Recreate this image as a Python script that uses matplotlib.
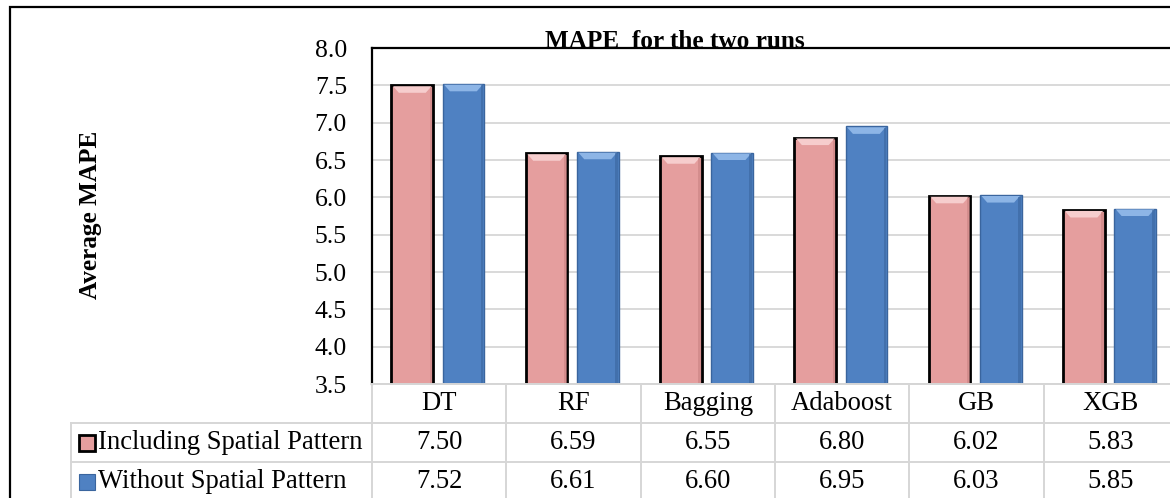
import numpy as np
import matplotlib
matplotlib.use("Agg")
import matplotlib.pyplot as plt
from matplotlib.patches import Rectangle, Polygon

# datos del grafico
modelos = ["DT", "RF", "Bagging", "Adaboost", "GB", "XGB"]
series = ["Including Spatial Pattern", "Without Spatial Pattern"]
con_patron = [7.50, 6.59, 6.55, 6.80, 6.02, 5.83]
sin_patron = [7.52, 6.61, 6.60, 6.95, 6.03, 5.85]
y_ticks = [3.5, 4.0, 4.5, 5.0, 5.5, 6.0, 6.5, 7.0, 7.5, 8.0]

plt.rcParams["font.family"] = ["Liberation Serif", "DejaVu Serif"]

W, H = 1170, 498
fig = plt.figure(figsize=(W / 100, H / 100), dpi=100)

# posiciones en pixeles del area de trazado
x0, x1 = 372, 1178
y_top, y_bot = 48, 384
ax = fig.add_axes([x0 / W, 1 - y_bot / H, (x1 - x0) / W, (y_bot - y_top) / H])

pink, pink_hi, pink_lo = "#E59E9E", "#F6CDCD", "#C98383"
blue, blue_hi, blue_lo = "#4F81C2", "#8DB5E6", "#3A659E"

x = np.arange(len(modelos))
bw = 0.31
b1 = ax.bar(x - 0.2, con_patron, bw, bottom=0, color=pink, edgecolor="black",
            linewidth=2.0, zorder=3)
b2 = ax.bar(x + 0.18, sin_patron, bw, bottom=0, color=blue, edgecolor=blue_lo,
            linewidth=1.0, zorder=3)

ax.set_xlim(-0.5, len(modelos) - 0.5)
ax.set_ylim(3.5, 8.0)

# efecto de bisel arriba de cada barra
dy = 0.10
dx = 0.055
for bars, hi, lo in [(b1, pink_hi, pink_lo), (b2, blue_hi, blue_lo)]:
    for r in bars:
        bx, bt, w = r.get_x(), r.get_height(), r.get_width()
        ax.add_patch(Polygon([(bx + 0.012, bt - 0.012), (bx + w - 0.012, bt - 0.012),
                              (bx + w - dx, bt - dy), (bx + dx, bt - dy)],
                             closed=True, color=hi, lw=0, zorder=4))
        # sombra lateral derecha
        ax.add_patch(Rectangle((bx + w - 0.025, 3.5), 0.018, bt - 3.5 - 0.02,
                               color=lo, lw=0, alpha=0.6, zorder=4))

ax.set_yticks(y_ticks)
ax.set_yticklabels([f"{v:.1f}" for v in y_ticks], fontsize=18.5)
ax.tick_params(axis="y", length=0, pad=18)
ax.set_xticks([])
ax.yaxis.grid(True, color="#D9D9D9", linewidth=1.4, zorder=0)
ax.set_axisbelow(True)
for s in ["top", "left", "right"]:
    ax.spines[s].set_linewidth(1.6)
    ax.spines[s].set_color("black")
ax.spines["bottom"].set_color("#D0D0D0")
ax.spines["bottom"].set_linewidth(1.2)

ax.set_title("MAPE  for the two runs", fontsize=18.2, fontweight="bold",
             x=(675 - x0) / (x1 - x0), y=0.975, va="baseline")
fig.text(91 / W, 1 - 215 / H, "Average MAPE", rotation=90, fontsize=18.2,
         fontweight="bold", ha="center", va="center")

# tabla de datos debajo del grafico
row_h = 39
tax = fig.add_axes([x0 / W, 1 - (y_bot + 3 * row_h) / H, (x1 - x0) / W, 3 * row_h / H])
tax.set_xlim(-0.5, len(modelos) - 0.5)
tax.set_ylim(3, 0)
tax.axis("off")

px = (len(modelos)) / (x1 - x0)  # unidades de datos por pixel
leg_left = -0.5 - (x0 - 71) * px
grid_c = "#D6D6D6"
lw_t = 1.4

# lineas horizontales y verticales
tax.plot([-0.5, 5.5], [0, 0], color=grid_c, lw=lw_t, clip_on=False)
for r in [1, 2]:
    tax.plot([leg_left, 5.5], [r, r], color=grid_c, lw=lw_t, clip_on=False)
tax.plot([leg_left, leg_left], [1, 3], color=grid_c, lw=lw_t, clip_on=False)
for i in range(len(modelos) + 1):
    tax.plot([i - 0.5, i - 0.5], [0, 3], color=grid_c, lw=lw_t, clip_on=False)

fs = 19.2
for i, m in enumerate(modelos):
    tax.text(i, 0.5, m, ha="center", va="center", fontsize=fs)
    tax.text(i, 1.5, f"{con_patron[i]:.2f}", ha="center", va="center", fontsize=fs)
    tax.text(i, 2.5, f"{sin_patron[i]:.2f}", ha="center", va="center", fontsize=fs)

# marcadores de leyenda y etiquetas
mk_x = -0.5 - (x0 - 86.5) * px
tx_x = -0.5 - (x0 - 98) * px
for r, (lab, fc, ec) in enumerate([(series[0], pink, "black"), (series[1], blue, blue_lo)]):
    tax.plot([mk_x], [1.5 + r], marker="s", markersize=11, markerfacecolor=fc,
             markeredgecolor=ec, markeredgewidth=2.0 if r == 0 else 0.8, clip_on=False)
    tax.text(tx_x, 1.5 + r, lab, ha="left", va="center", fontsize=fs, clip_on=False)

# borde exterior del grafico
fig.patches.append(Rectangle((10 / W, -0.2), 1.5, 1.2 - 7 / H, transform=fig.transFigure,
                             fill=False, edgecolor="black", linewidth=1.6, zorder=10))

fig.savefig("out.png", dpi=100)
